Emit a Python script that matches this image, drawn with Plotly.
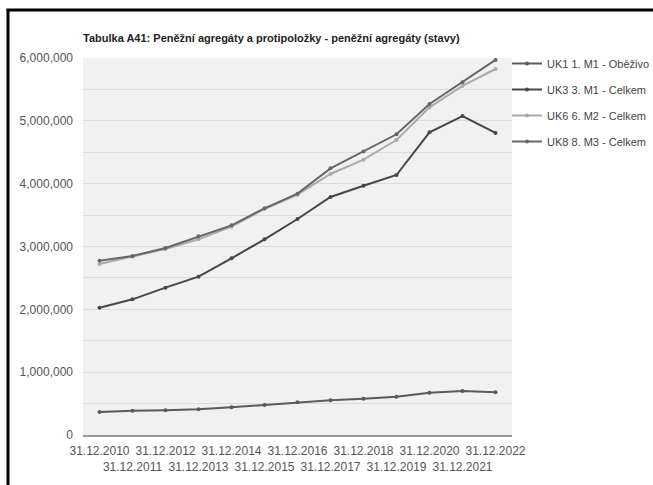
import plotly.graph_objects as go

years = ["31.12.2010", "31.12.2011", "31.12.2012", "31.12.2013", "31.12.2014",
         "31.12.2015", "31.12.2016", "31.12.2017", "31.12.2018", "31.12.2019",
         "31.12.2020", "31.12.2021", "31.12.2022"]

uk1 = [366000, 387000, 393000, 409000, 441000, 477000, 520000, 552000,
       578000, 610000, 673000, 700000, 680000]
uk3 = [2026000, 2159000, 2345000, 2520000, 2812000, 3114000, 3438000, 3788000,
       3968000, 4138000, 4817000, 5077000, 4807000]
uk6 = [2722000, 2838000, 2960000, 3114000, 3316000, 3597000, 3825000, 4154000,
       4382000, 4695000, 5215000, 5555000, 5825000]
uk8 = [2775000, 2849000, 2976000, 3162000, 3337000, 3608000, 3841000, 4244000,
       4510000, 4786000, 5268000, 5613000, 5969000]

names = ["UK1 1. M1 - Oběživo", "UK3 3. M1 - Celkem", "UK6 6. M2 - Celkem", "UK8 8. M3 - Celkem"]
series = [uk1, uk3, uk6, uk8]
colors = ["#5a5a5a", "#474747", "#ababab", "#676767"]

y_ticks = [0, 1000000, 2000000, 3000000, 4000000, 5000000, 6000000]
y_labels = ["0", "1,000,000", "2,000,000", "3,000,000", "4,000,000", "5,000,000", "6,000,000"]

FONT = "Liberation Sans, Arial, sans-serif"

W, H = 653, 485
L, R, T, B = 83, 141, 58, 50
pw, ph = W - L - R, H - T - B

def px_x(px):
    return (px - L) / pw

def px_y(py):
    return (H - B - py) / ph

fig = go.Figure()
for i, (n, s, c) in enumerate(zip(names, series, colors)):
    fig.add_trace(go.Scatter(
        x=years, y=s, name=n, mode="lines+markers",
        line=dict(color=c, width=2),
        marker=dict(color=c, size=4, symbol="circle"),
        legendgroup=str(i),
    ))

ticktext = [y if i % 2 == 0 else "<br>" + y for i, y in enumerate(years)]

fig.update_layout(
    width=W, height=H,
    margin=dict(l=L, r=R, t=T, b=B, autoexpand=False),
    paper_bgcolor="white",
    plot_bgcolor="#f1f1f1",
    font=dict(family=FONT, size=12, color="#555555"),
    title=dict(
        text="<b>Tabulka A41: Peněžní agregáty a protipoložky - peněžní agregáty (stavy)</b>",
        x=83 / W, xref="container", xanchor="left",
        y=1 - 38 / H, yref="container", yanchor="middle",
        font=dict(family=FONT, size=11, color="#222222"),
    ),
    legend=dict(
        xref="container", yref="container",
        x=507 / W, y=1 - 49 / H, xanchor="left", yanchor="top",
        font=dict(family=FONT, size=11, color="#444444"),
        tracegroupgap=7, bgcolor="rgba(0,0,0,0)",
        itemwidth=30,
    ),
    xaxis=dict(
        tickmode="array", tickvals=years, ticktext=ticktext, tickangle=0,
        showgrid=False, showline=True, linecolor="#999999", linewidth=1.5,
        ticks="", ticklabelstandoff=4,
        tickfont=dict(family=FONT, size=12, color="#555555"),
        range=[-0.5, 12.5], automargin=False,
    ),
    yaxis=dict(
        range=[0, 6000000], tickmode="array", tickvals=y_ticks, ticktext=y_labels,
        showgrid=True, gridcolor="#dcdcdc", gridwidth=1, zeroline=False,
        ticks="", ticklabelstandoff=9, automargin=False,
        tickfont=dict(family=FONT, size=12, color="#555555"),
        minor=dict(tickvals=[500000, 1500000, 2500000, 3500000, 4500000, 5500000],
                   showgrid=True, gridcolor="#dcdcdc", gridwidth=1),
    ),
    shapes=[
        dict(type="line", xref="paper", yref="paper",
             x0=px_x(8), x1=px_x(8), y0=px_y(9), y1=px_y(H + 5),
             line=dict(color="black", width=3)),
        dict(type="line", xref="paper", yref="paper",
             x0=px_x(6.5), x1=px_x(W + 5), y0=px_y(10), y1=px_y(10),
             line=dict(color="black", width=3)),
    ],
)

fig.write_html("out.html", config={"displayModeBar": False},
               post_script="document.body.style.margin='0';document.body.style.overflow='hidden';")
